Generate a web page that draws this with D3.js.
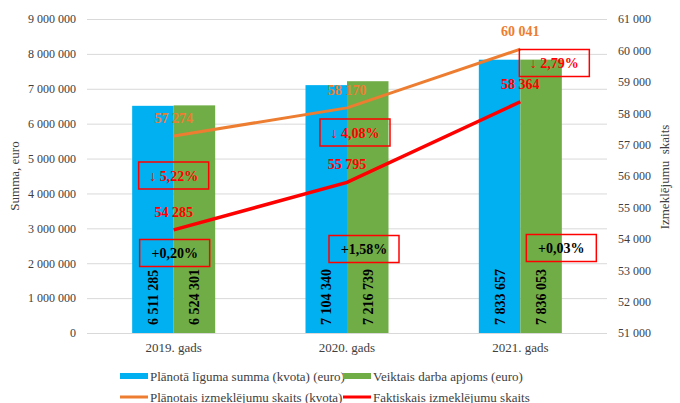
<!DOCTYPE html>
<html>
<head>
<meta charset="utf-8">
<script src="https://cdn.jsdelivr.net/npm/d3@7"></script>
<style>
  body { margin: 0; background: #fff; }
  svg, svg text { font-family: "Liberation Serif", "Times New Roman", serif; }
  .axis path, .axis line { display: none; }
  .axis text { fill: #404040; font-size: 12px; font-family: "Liberation Serif", serif; }
  .grid line { stroke: #d9d9d9; stroke-width: 1; }
</style>
</head>
<body>
<div id="chart"></div>
<script>
// Data
var years = ['2019. gads', '2020. gads', '2021. gads'];
var plannedSum = [6511285, 7104340, 7833657];
var actualSum = [6524301, 7216739, 7836053];
var plannedCount = [57274, 58170, 60041];
var actualCount = [54285, 55795, 58364];
var countChange = ['↓ 5,22%', '↓ 4,08%', '↓ 2,79%'];
var sumChange = ['+0,20%', '+1,58%', '+0,03%'];
var leftTicks = [0, 1000000, 2000000, 3000000, 4000000, 5000000, 6000000, 7000000, 8000000, 9000000];
var rightTicks = [51000, 52000, 53000, 54000, 55000, 56000, 57000, 58000, 59000, 60000, 61000];

var colors = { blue: '#00b0f0', green: '#70ad47', orange: '#ed7d31', red: '#ff0000' };
var serif = '"Liberation Serif", "Times New Roman", serif';

var W = 680, H = 403;
var margin = {top: 19, right: 73, bottom: 70, left: 87};
var width = W - margin.left - margin.right,
    height = H - margin.top - margin.bottom;

var fmt = function(v) { return d3.format(',')(v).replace(/,/g, ' '); };

var root = d3.select('#chart').append('svg')
    .attr('width', W)
    .attr('height', H)
    .attr('font-family', serif);

var svg = root.append('g')
    .attr('transform', 'translate(' + margin.left + ',' + margin.top + ')');

var x = d3.scaleBand().domain(years).range([0, width]);
var x1 = d3.scaleBand().domain(['plan', 'act']).range([0, 83]);
var y = d3.scaleLinear().domain([0, 9000000]).range([height, 0]);
var y2 = d3.scaleLinear().domain([51000, 61000]).range([height, 0]);

// grid
svg.append('g').attr('class', 'grid')
  .selectAll('line').data(leftTicks).enter().append('line')
    .attr('x1', 0).attr('x2', width)
    .attr('y1', function(d){ return y(d) + 0.5; })
    .attr('y2', function(d){ return y(d) + 0.5; });

// axes
svg.append('g').attr('class', 'axis')
  .call(d3.axisLeft(y).tickValues(leftTicks).tickFormat(fmt).tickSize(0).tickPadding(11));

svg.append('g').attr('class', 'axis')
  .attr('transform', 'translate(' + width + ',0)')
  .call(d3.axisRight(y2).tickValues(rightTicks).tickFormat(fmt).tickSize(0).tickPadding(11));

svg.append('g').attr('class', 'axis')
  .attr('transform', 'translate(0,' + height + ')')
  .call(d3.axisBottom(x).tickSize(0).tickPadding(10))
  .selectAll('text').style('font-size', '13px');

svg.selectAll('.axis').attr('font-family', serif);

// bars
var groups = svg.selectAll('.year').data(years).enter().append('g')
  .attr('class', 'year')
  .attr('transform', function(d){ return 'translate(' + (x(d) + x.bandwidth() / 2 - 41.5) + ',0)'; });

var barData = function(d, i) {
  return [{key: 'plan', v: plannedSum[i], c: colors.blue},
          {key: 'act', v: actualSum[i], c: colors.green}];
};

var bars = groups.selectAll('.bar').data(barData).enter().append('g').attr('class', 'bar');

bars.append('rect')
  .attr('x', function(d){ return x1(d.key); })
  .attr('width', x1.bandwidth())
  .attr('y', function(d){ return y(d.v); })
  .attr('height', function(d){ return height - y(d.v); })
  .attr('fill', function(d){ return d.c; });

bars.append('text')
  .attr('transform', function(d){
    return 'translate(' + (x1(d.key) + x1.bandwidth() / 2 + 5) + ',' + (height - 8) + ') rotate(-90)';
  })
  .style('font-size', '14px').style('font-weight', 'bold').attr('fill', '#000')
  .text(function(d){ return fmt(d.v); });

// lines
var cx = function(d, i){ return x(years[i]) + x.bandwidth() / 2; };
var line = d3.line().x(cx).y(function(d){ return y2(d); });

svg.append('path').datum(plannedCount)
  .attr('d', line).attr('fill', 'none')
  .attr('stroke', colors.orange).attr('stroke-width', 3);

svg.append('path').datum(actualCount)
  .attr('d', line).attr('fill', 'none')
  .attr('stroke', colors.red).attr('stroke-width', 3.5);

svg.selectAll('.lbl-plan').data(plannedCount).enter().append('text')
  .attr('x', cx).attr('y', function(d){ return y2(d) - 13; })
  .attr('text-anchor', 'middle')
  .style('font-size', '14px').style('font-weight', 'bold').attr('fill', colors.orange)
  .text(fmt);

svg.selectAll('.lbl-act').data(actualCount).enter().append('text')
  .attr('x', cx).attr('y', function(d){ return y2(d) - 13; })
  .attr('text-anchor', 'middle')
  .style('font-size', '14px').style('font-weight', 'bold').attr('fill', colors.red)
  .text(fmt);

// annotation boxes (layout offsets from the category centre)
var downBoxPos = [{dx: 0, cy: 175.5}, {dx: 8, cy: 132.5}, {dx: 34, cy: 63}];
var upBoxPos = [{dx: 1, cy: 253}, {dx: 17, cy: 249}, {dx: 41, cy: 248}];

var drawBoxes = function(labels, pos, color) {
  var g = svg.selectAll(null).data(labels).enter().append('g')
    .attr('transform', function(d, i){
      return 'translate(' + (cx(d, i) + pos[i].dx) + ',' + (pos[i].cy - margin.top) + ')';
    });
  g.append('rect')
    .attr('x', -35).attr('y', -13.5).attr('width', 70).attr('height', 27)
    .attr('fill', 'none').attr('stroke', '#ff0000').attr('stroke-width', 1.5);
  g.append('text')
    .attr('text-anchor', 'middle').attr('y', 5)
    .style('font-size', '14px').style('font-weight', 'bold').attr('fill', color)
    .text(function(d){ return d; });
};
drawBoxes(countChange, downBoxPos, '#ff0000');
drawBoxes(sumChange, upBoxPos, '#000');

// axis titles
svg.append('text')
  .attr('transform', 'translate(' + (-margin.left + 19) + ',' + (176 - margin.top) + ') rotate(-90)')
  .attr('text-anchor', 'middle')
  .style('font-size', '13px').attr('fill', '#404040')
  .text('Summa, euro');

svg.append('text')
  .attr('transform', 'translate(' + (width + 62) + ',' + (177 - margin.top) + ') rotate(-90)')
  .attr('text-anchor', 'middle')
  .style('font-size', '13px').attr('fill', '#404040')
  .text('Izmeklējumu\u00a0 skaits');

// legend
var legendItems = [
  {name: 'Plānotā līguma summa (kvota) (euro)', c: colors.blue, type: 'bar', lx: 120, ly: 376},
  {name: 'Veiktais darba apjoms (euro)', c: colors.green, type: 'bar', lx: 343, ly: 376},
  {name: 'Plānotais izmeklējumu skaits (kvota)', c: colors.orange, type: 'line', lx: 120, ly: 397},
  {name: 'Faktiskais izmeklējumu skaits', c: colors.red, type: 'line', lx: 343, ly: 397}
];

var legend = root.append('g').attr('class', 'legend')
  .selectAll('g').data(legendItems).enter().append('g')
  .attr('transform', function(d){ return 'translate(' + d.lx + ',' + d.ly + ')'; });

legend.append('rect')
  .attr('x', 0).attr('width', 28)
  .attr('y', function(d){ return d.type === 'bar' ? -3 : -1.5; })
  .attr('height', function(d){ return d.type === 'bar' ? 6 : 3; })
  .attr('fill', function(d){ return d.c; });

legend.append('text')
  .attr('x', 30).attr('y', 4.5)
  .attr('font-family', serif)
  .style('font-size', '13px').attr('fill', '#404040')
  .text(function(d){ return d.name; });
</script>
</body>
</html>
